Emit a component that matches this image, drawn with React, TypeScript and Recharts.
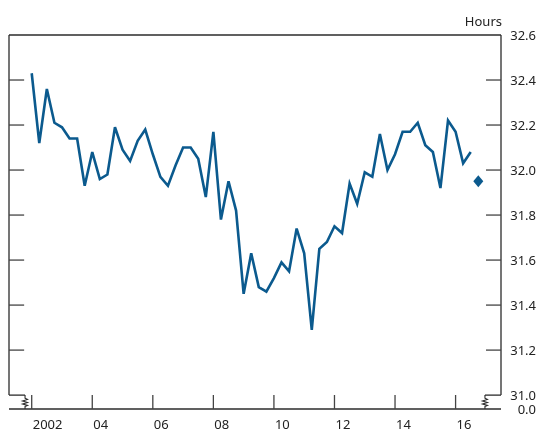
import React from "react";
import { ComposedChart, Line, XAxis, YAxis, ReferenceLine } from "recharts";

const quarters = [
  "2002Q1","2002Q2","2002Q3","2002Q4","2003Q1","2003Q2","2003Q3","2003Q4",
  "2004Q1","2004Q2","2004Q3","2004Q4","2005Q1","2005Q2","2005Q3","2005Q4",
  "2006Q1","2006Q2","2006Q3","2006Q4","2007Q1","2007Q2","2007Q3","2007Q4",
  "2008Q1","2008Q2","2008Q3","2008Q4","2009Q1","2009Q2","2009Q3","2009Q4",
  "2010Q1","2010Q2","2010Q3","2010Q4","2011Q1","2011Q2","2011Q3","2011Q4",
  "2012Q1","2012Q2","2012Q3","2012Q4","2013Q1","2013Q2","2013Q3","2013Q4",
  "2014Q1","2014Q2","2014Q3","2014Q4","2015Q1","2015Q2","2015Q3","2015Q4",
  "2016Q1","2016Q2","2016Q3","2016Q4",
];

const hours = [
  32.43, 32.12, 32.36, 32.21, 32.19, 32.14, 32.14, 31.93,
  32.08, 31.96, 31.98, 32.19, 32.09, 32.04, 32.13, 32.18,
  32.07, 31.97, 31.93, 32.02, 32.10, 32.10, 32.05, 31.88,
  32.17, 31.78, 31.95, 31.82, 31.45, 31.63, 31.48, 31.46,
  31.52, 31.59, 31.55, 31.74, 31.63, 31.29, 31.65, 31.68,
  31.75, 31.72, 31.94, 31.85, 31.99, 31.97, 32.16, 32.00,
  32.07, 32.17, 32.17, 32.21, 32.11, 32.08, 31.92, 32.22,
  32.17, 32.03, 32.08,
];

const latest = 31.95;

const yearTicks = [2002, 2004, 2006, 2008, 2010, 2012, 2014, 2016];
const yearLabels = ["2002", "04", "06", "08", "10", "12", "14", "16"];
const valueTicks = [31.0, 31.2, 31.4, 31.6, 31.8, 32.0, 32.2, 32.4, 32.6];
const innerTicks = [31.2, 31.4, 31.6, 31.8, 32.0, 32.2, 32.4];

// quarter label -> decimal date
const toDate = (q: string) => Number(q.slice(0, 4)) + (Number(q.slice(5)) - 1) / 4;

const data = quarters.map((q, i) => ({
  q,
  t: toDate(q),
  hours: i < hours.length ? hours[i] : null,
  latest: i === quarters.length - 1 ? latest : null,
}));

const BLUE = "#0b5a8e";
const FRAME = "#2b2b2b";
const TICK = "#444";
const FONT = "'Noto Sans', 'Open Sans', sans-serif";

// axis geometry (decorations, in data units)
const X0 = 2001.25;
const X1 = 2017.5;
const TICK_LEN = 0.5; // years
const BREAK_L = 2001.78;
const BREAK_R = 2016.97;
const Y_TOP = 32.6;
const Y_BREAK = 31.0;
const Y0 = 30.9383;

const YearTick = (props: any) => {
  const { x, y, payload } = props;
  const idx = yearTicks.indexOf(payload.value);
  return (
    <g>
      <line x1={x} y1={y - 14} x2={x} y2={y} stroke={TICK} strokeWidth={1.3} />
      <text x={x + 1} y={y + 15} textAnchor="start" dominantBaseline="central" fontSize={13} fontFamily={FONT} fill="#222">
        {idx >= 0 ? yearLabels[idx] : ""}
      </text>
    </g>
  );
};

const RightTick = (props: any) => {
  const { x, y, payload } = props;
  const v = payload.value;
  const isZero = Math.abs(v - Y0) < 1e-6;
  const inner = v > 31.05 && v < 32.55;
  return (
    <g>
      {inner && <line x1={x - 15} y1={y} x2={x} y2={y} stroke={TICK} strokeWidth={1.3} />}
      <text x={x + 35} y={y} textAnchor="end" dominantBaseline="central" fontSize={13} fontFamily={FONT} fill="#222">
        {isZero ? "0.0" : v.toFixed(1)}
      </text>
    </g>
  );
};

const Zigzag = (props: any) => {
  const { x1, y1, y2 } = props;
  const top = Math.min(y1, y2);
  const bot = Math.max(y1, y2);
  const x = x1;
  const d = `M${x},${top} L${x},${top + 3} L${x + 2.5},${top + 4.3} L${x - 2.5},${top + 5.8} L${x + 2.5},${top + 7.3} L${x - 2.5},${top + 8.8} L${x + 2.5},${top + 10.3} L${x},${top + 11.3} L${x},${bot}`;
  return <path d={d} fill="none" stroke={FRAME} strokeWidth={1.1} />;
};

const DiamondDot = (props: any) => {
  const { cx, cy, index } = props;
  if (cx == null || cy == null || isNaN(cx) || isNaN(cy)) return <g key={`d${index}`} />;
  return (
    <path
      key={`d${index}`}
      d={`M${cx},${cy - 6} L${cx + 5},${cy} L${cx},${cy + 6} L${cx - 5},${cy} Z`}
      fill={BLUE}
    />
  );
};

export default function App() {
  const frameProps = { yAxisId: "r", stroke: FRAME, strokeWidth: 1.3, ifOverflow: "visible" as const };
  const tickProps = { yAxisId: "r", stroke: TICK, strokeWidth: 1.3, ifOverflow: "visible" as const };
  return (
    <div style={{ position: "fixed", left: 8, top: 8, width: 530, height: 426 }}>
      <span
        style={{
          position: "absolute",
          right: 36,
          top: 5,
          fontFamily: FONT,
          fontSize: 13,
          lineHeight: "16px",
          color: "#222",
        }}
      >
        Hours
      </span>
      <ComposedChart width={530} height={426} data={data} margin={{ top: 27, right: 1, bottom: 0, left: 1 }}>
        <XAxis
          dataKey="t"
          type="number"
          domain={[X0, X1]}
          ticks={yearTicks}
          allowDataOverflow
          interval={0}
          height={25}
          tickLine={false}
          tickSize={0}
          tickMargin={0}
          tick={(p: any) => <YearTick {...p} />}
          axisLine={{ stroke: FRAME, strokeWidth: 1.3 }}
        />
        <YAxis
          yAxisId="r"
          orientation="right"
          domain={[Y0, 32.6]}
          ticks={[Y0, ...valueTicks]}
          allowDataOverflow
          interval={0}
          width={36}
          axisLine={false}
          tickLine={false}
          tickSize={0}
          tickMargin={0}
          tick={(p: any) => <RightTick {...p} />}
        />
        <ReferenceLine {...frameProps} segment={[{ x: X0, y: Y_TOP }, { x: X1, y: Y_TOP }]} />
        <ReferenceLine {...frameProps} segment={[{ x: X0, y: Y_BREAK }, { x: X0, y: Y_TOP }]} />
        <ReferenceLine {...frameProps} segment={[{ x: X1, y: Y_BREAK }, { x: X1, y: Y_TOP }]} />
        <ReferenceLine {...frameProps} segment={[{ x: X0, y: Y_BREAK }, { x: BREAK_L, y: Y_BREAK }]} />
        <ReferenceLine {...frameProps} segment={[{ x: BREAK_R, y: Y_BREAK }, { x: X1, y: Y_BREAK }]} />
        <ReferenceLine {...frameProps} segment={[{ x: BREAK_L, y: Y0 }, { x: BREAK_L, y: Y_BREAK }]} shape={(p: any) => <Zigzag {...p} />} />
        <ReferenceLine {...frameProps} segment={[{ x: BREAK_R, y: Y0 }, { x: BREAK_R, y: Y_BREAK }]} shape={(p: any) => <Zigzag {...p} />} />
        {innerTicks.map((v) => (
          <ReferenceLine key={`lt${v}`} {...tickProps} segment={[{ x: X0, y: v }, { x: X0 + TICK_LEN, y: v }]} />
        ))}
        <Line
          yAxisId="r"
          type="linear"
          dataKey="hours"
          stroke={BLUE}
          strokeWidth={2.6}
          dot={false}
          activeDot={false}
          isAnimationActive={false}
        />
        <Line
          yAxisId="r"
          type="linear"
          dataKey="latest"
          stroke="none"
          dot={(p: any) => <DiamondDot {...p} />}
          activeDot={false}
          isAnimationActive={false}
        />
      </ComposedChart>
    </div>
  );
}
